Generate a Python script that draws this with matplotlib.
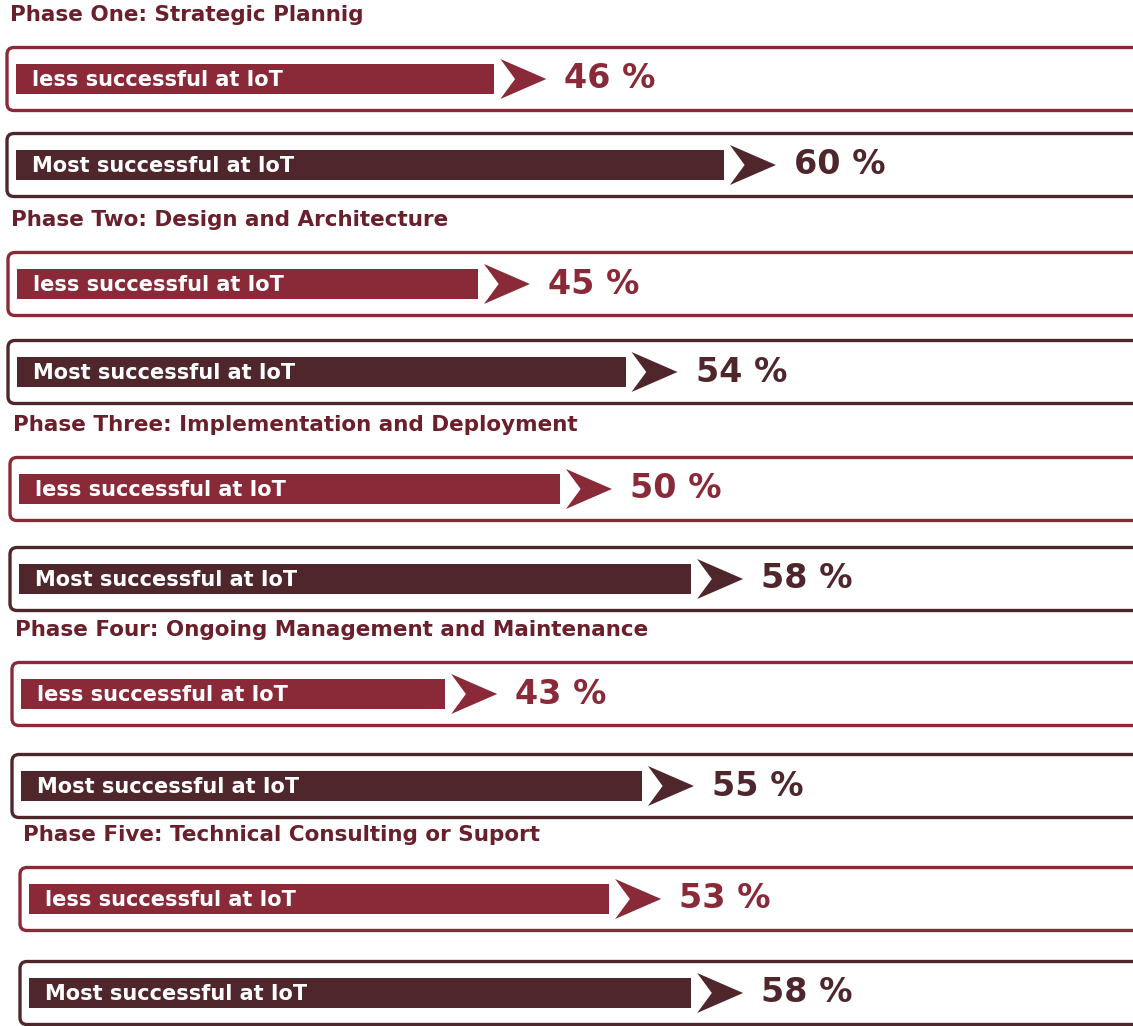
import numpy as np
import matplotlib
matplotlib.use('Agg')
import matplotlib.pyplot as plt
from matplotlib.patches import FancyBboxPatch, Polygon

plt.rcParams['font.family'] = ['DejaVu Sans']

# data
phases = ['Phase One: Strategic Plannig',
          'Phase Two: Design and Architecture',
          'Phase Three: Implementation and Deployment',
          'Phase Four: Ongoing Management and Maintenance',
          'Phase Five: Technical Consulting or Suport']
groups = ['less successful at IoT', 'Most successful at IoT']
less_pct = [46, 45, 50, 43, 53]
most_pct = [60, 54, 58, 55, 58]

c_less = '#8a2a38'
c_most = '#4e262b'
c_title = '#6b1f2b'

W, H = 1133, 1026
fig = plt.figure(figsize=(W / 100, H / 100), dpi=100)

# background axes in pixel units for the rounded frames and titles
bg = fig.add_axes([0, 0, 1, 1])
bg.set_xlim(0, W)
bg.set_ylim(H, 0)
bg.axis('off')

# value axes for the bars (the picture's scale does not start at zero)
ax = fig.add_axes([0, 0, 1, 1])
x0, x1 = 15.85, 84.95
ax.set_xlim(x0, x1)
ax.set_ylim(H, 0)
ax.axis('off')
ax.patch.set_alpha(0)
upx = (x1 - x0) / W  # value units per pixel

shift = [0, 1, 3, 5, 13]     # slight drift of the scan, px
base = 16.8                  # where the bars begin on the value scale
bar_h, frame_h = 30, 63
arr_w, arr_h, gap = 46, 40, 6

for i, title in enumerate(phases):
    y0 = 15 + 205 * i
    bg.text(10 + shift[i], y0, title, fontsize=15.5, fontweight='bold',
            color=c_title, va='center', ha='left')
    rows = [(y0 + 64, less_pct[i], c_less, groups[0]),
            (y0 + 150 + 2 * i, most_pct[i], c_most, groups[1])]
    for yc, val, col, lab in rows:
        fl = 7 + shift[i]
        bg.add_patch(FancyBboxPatch((fl, yc - frame_h / 2), W + 40 - fl, frame_h,
                                    boxstyle='round,pad=0,rounding_size=7',
                                    fc='white', ec=col, lw=2.4))
        left = base + shift[i] * upx
        ax.barh(yc, val - left, left=left, height=bar_h, color=col)
        ax.text(left + 16 * upx, yc + 1, lab, fontsize=15, fontweight='bold',
                color='white', va='center', ha='left')
        ax_ = val + gap * upx
        xs = ax_ + np.array([0, arr_w, 0, arr_w * 0.32]) * upx
        ys = yc + np.array([-arr_h / 2, 0, arr_h / 2, 0])
        ax.add_patch(Polygon(np.column_stack([xs, ys]), closed=True, fc=col, ec='none'))
        ax.text(ax_ + (arr_w + 18) * upx, yc, f'{val} %', fontsize=24,
                fontweight='bold', color=col, va='center', ha='left')

fig.savefig('out.png', dpi=100, facecolor='white')
